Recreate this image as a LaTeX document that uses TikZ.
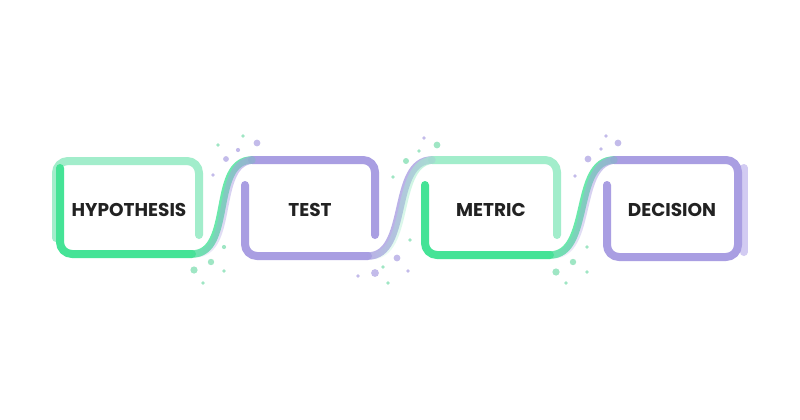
\documentclass[tikz,border=0pt]{standalone}
\usepackage{fontspec}
\setmainfont{Poppins}
\usetikzlibrary{fadings}
\definecolor{gdark}{HTML}{45E396}
\definecolor{glight}{HTML}{A2EDCB}
\definecolor{purp}{HTML}{A99EE2}
\definecolor{purplight}{HTML}{D2CBF2}
\definecolor{dotg}{HTML}{9FE6C4}
\definecolor{dotp}{HTML}{C3BBEA}
\definecolor{txt}{HTML}{222222}
\tikzfading[name=fadein, left color=transparent!100, right color=transparent!0]
\tikzset{
  band/.style={line width=8pt, line cap=round, line join=round, rounded corners=12pt},
  label/.style={font=\fontsize{18.5}{20}\selectfont\bfseries, text=txt, inner sep=0pt},
  strand/.style={line width=7.5pt, line cap=round, opacity=0.8},
  dg/.style={fill=dotg, draw=none},
  dp/.style={fill=dotp, draw=none}
}
\begin{document}
\begin{tikzpicture}[x=1pt,y=-1pt]
\useasboundingbox (0,0) rectangle (800,420);
\fill[white] (0,0) rectangle (800,420);

% dots
\foreach \x/\y/\r in {218/145/1.8, 243/136/1.9, 224/247/2.1, 211/262/3.2, 194/270/3.6, 224/271/1.8, 203/283/1.8,
  419/151/1.9, 406/161/3, 393/177/1.9, 437/145/3.4, 410/240/1.9, 383/267/1.9, 388/283/1.9,
  587/247/1.9, 573/262/3.2, 556/272/3.6, 587/272/1.8, 566/283/1.8}
  \fill[dg] (\x,\y) circle (\r);
\foreach \x/\y/\r in {257/143/3.4, 238/150/2.1, 226/159/2.9, 213/175/1.8,
  424/138/1.8, 397/258/3.4, 408/271/1.9, 375/273/3.9, 358/276/1.9,
  606/136/1.8, 618/143/3.4, 601/149/1.9, 588/159/3.4, 575/176/1.8}
  \fill[dp] (\x,\y) circle (\r);

% HYPOTHESIS box
\draw[band, glight] (199,235) -- (199,161) -- (56,161) -- (56,238);
\draw[band, gdark] (60,168) -- (60,254) -- (192,254);
% TEST box
\draw[band, purp] (252,160) -- (375,160) -- (375,235);
\draw[band, purp] (245,185) -- (245,256) -- (368,256);
% METRIC box
\draw[band, glight] (432,160) -- (557,160) -- (557,235);
\draw[band, gdark] (425,185) -- (425,255) -- (550,255);
% DECISION box
\draw[line width=8pt, line cap=round, purplight] (743.5,168) -- (743.5,252);
\draw[band, purp] (614,160) -- (738,160) -- (738,200);
\draw[band, purp] (607,185) -- (607,257) -- (738,257) -- (738,190);

% S-curves
\coordinate (c1a) at (192,254); \coordinate (c1b) at (252,160);
\draw[strand, gdark] (c1a) .. controls +(42,0) and +(-42,0) .. (c1b);
\draw[strand, purp, path fading=fadein] ([xshift=2.5pt]c1a) .. controls +(42,0) and +(-42,0) .. ([xshift=2.5pt]c1b);
\coordinate (c2a) at (368,256); \coordinate (c2b) at (432,160);
\draw[strand, purp] (c2a) .. controls +(42,0) and +(-42,0) .. (c2b);
\draw[strand, glight, path fading=fadein] ([xshift=2.5pt]c2a) .. controls +(42,0) and +(-42,0) .. ([xshift=2.5pt]c2b);
\coordinate (c3a) at (550,255); \coordinate (c3b) at (614,160);
\draw[strand, gdark] (c3a) .. controls +(42,0) and +(-42,0) .. (c3b);
\draw[strand, purp, path fading=fadein] ([xshift=2.5pt]c3a) .. controls +(42,0) and +(-42,0) .. ([xshift=2.5pt]c3b);

% labels
\node[label] (hyp) at (129,210) {HYPOTHESIS};
\node[label] (tst) at (310,210) {TEST};
\node[label] (met) at (491,210) {METRIC};
\node[label] (dec) at (672,210) {DECISION};
\end{tikzpicture}
\end{document}
